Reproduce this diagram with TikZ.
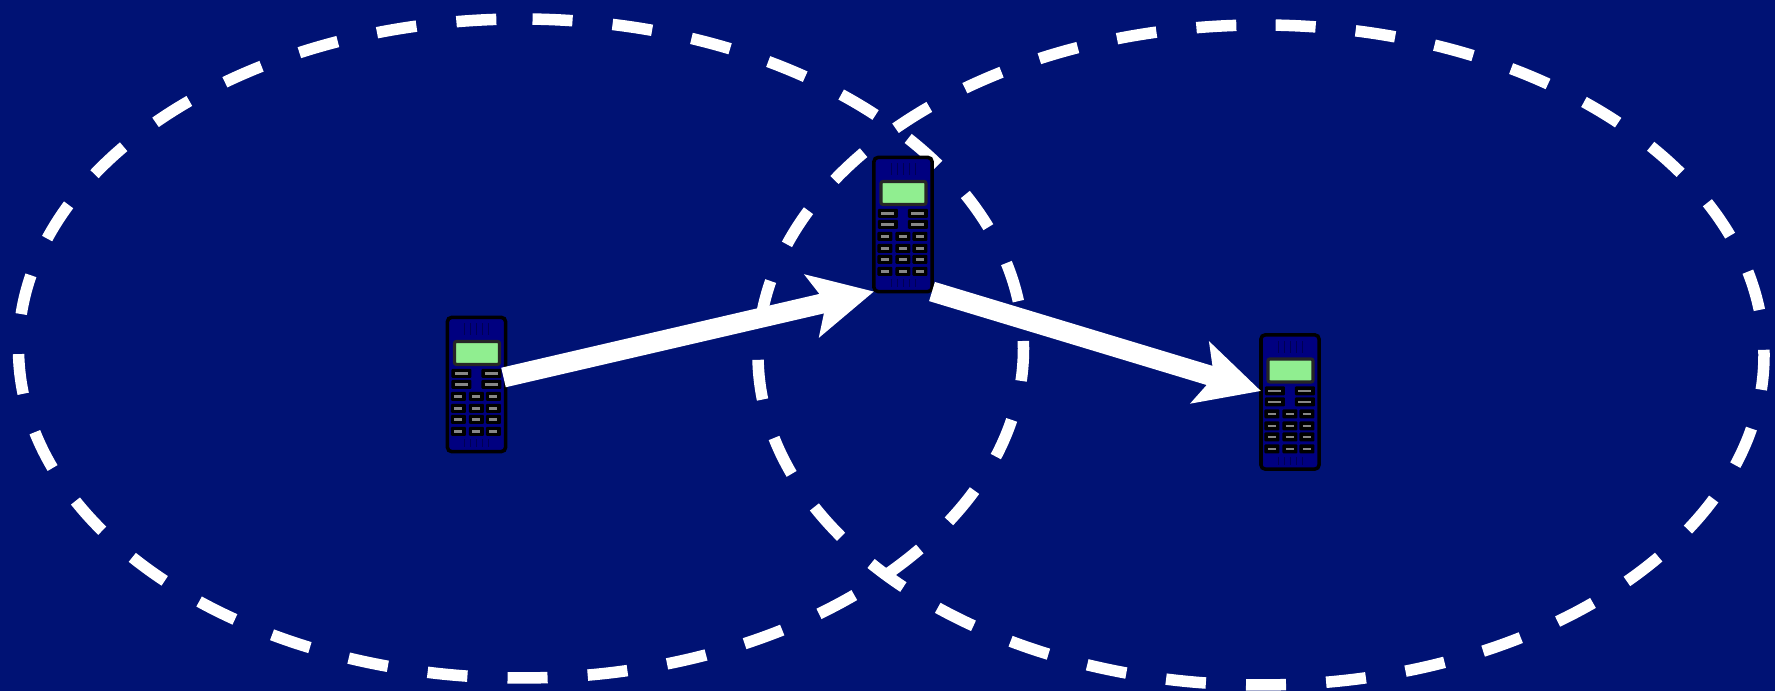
\documentclass[tikz,border=0pt]{standalone}
\usepackage{xcolor}
\definecolor{skybg}{RGB}{0,18,116}
\definecolor{phonebg}{RGB}{0,0,128}
\definecolor{screenbg}{RGB}{144,238,144}
\definecolor{keygrey}{RGB}{135,135,135}
\usetikzlibrary{arrows.meta}
\tikzset{
  coverage/.style={draw=white, line width=0.115cm,
    dash pattern=on 0.40cm off 0.4015cm, dash phase=0.555cm},
  hop/.style={draw=white, line width=0.20cm,
    -{Stealth[length=0.63cm, width=0.63cm, inset=0.14cm]}},
  phone/.style={draw=black, fill=phonebg, rounded corners=0.04cm,
    line width=1pt, inner sep=0pt, outer sep=0pt,
    minimum width=0.58cm, minimum height=1.34cm},
  keycap/.style={fill=black, rounded corners=0.01cm}
}
% screen, keypad and speaker slots on top of a phone node
\newcommand{\phonekeys}[1]{
  \begin{scope}[shift={(#1.north west)}, x=0.01cm, y=-0.01cm]
    \foreach \slot in {17,23,29,35,41} {
      \draw[black!35!phonebg, line width=0.2pt] (\slot,6) -- (\slot,18);
      \draw[black!35!phonebg, line width=0.2pt] (\slot,122) -- (\slot,130);
    }
    \draw[fill=screenbg, draw=black!85, line width=0.9pt, rounded corners=0.02cm]
      (7,24) rectangle (52,47);
    \foreach \row in {56,67} {
      \foreach \col in {14,44} {
        \fill[keycap] (\col-10,\row-4.5) rectangle (\col+10,\row+4.5);
        \draw[keygrey, line width=0.7pt] (\col-6.5,\row) -- (\col+6.5,\row);
      }
    }
    \foreach \row in {79,91,102,114} {
      \foreach \col in {11,29,46} {
        \fill[keycap] (\col-7.5,\row-4.5) rectangle (\col+7.5,\row+4.5);
        \draw[keygrey, line width=0.7pt] (\col-4,\row) -- (\col+4,\row);
      }
    }
  \end{scope}
}
\begin{document}
\begin{tikzpicture}[x=0.01cm, y=0.01cm]
  \fill[skybg] (0,0) rectangle (1775,691);
  \useasboundingbox (0,0) rectangle (1775,691);
  \draw[coverage] (521,672) arc[start angle=90, delta angle=360,
    x radius=502.5, y radius=329.5];
  \draw[coverage] (1261,666) arc[start angle=90, delta angle=360,
    x radius=503, y radius=330];
  \node[phone] (phoneA) at (476.5,306.5) {};
  \node[phone] (phoneB) at (903,466.5) {};
  \node[phone] (phoneC) at (1290,289) {};
  \phonekeys{phoneA}
  \phonekeys{phoneB}
  \phonekeys{phoneC}
  \draw[hop] ([xshift=-0.02cm, yshift=0.07cm]phoneA.east) -- (phoneB.south west);
  \draw[hop] (phoneB.south east) -- ([yshift=0.11cm]phoneC.west);
\end{tikzpicture}
\end{document}
